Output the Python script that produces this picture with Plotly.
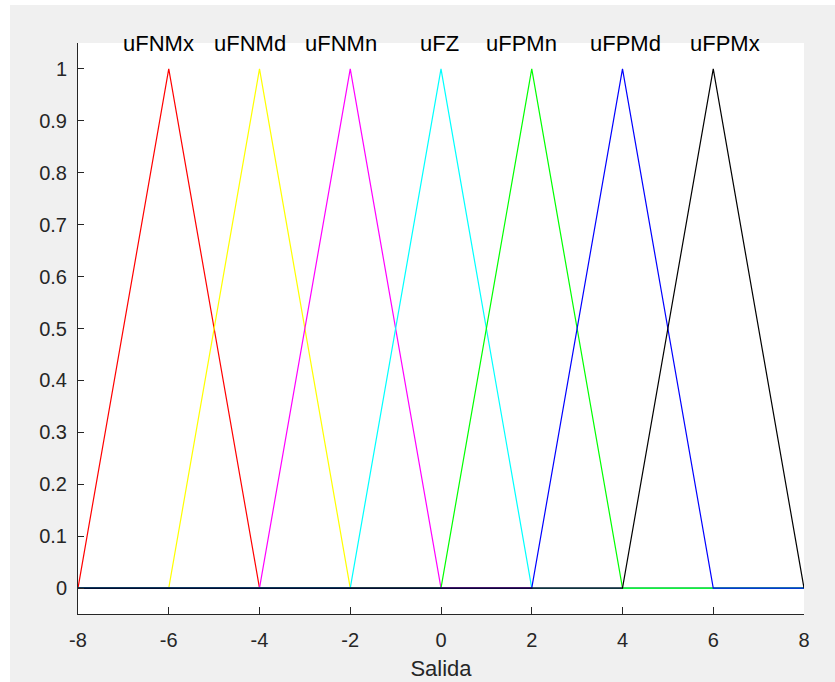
import plotly.graph_objects as go

names = ["uFNMx", "uFNMd", "uFNMn", "uFZ", "uFPMn", "uFPMd", "uFPMx"]
params = [[-8, -6, -4], [-6, -4, -2], [-4, -2, 0], [-2, 0, 2], [0, 2, 4], [2, 4, 6], [4, 6, 8]]
colors = ["#ff0000", "#ffff00", "#ff00ff", "#00ffff", "#00ff00", "#0000ff", "#000000"]
label_shift_px = [-10, -10, -9, -2, -10, 3, 12]
xmin, xmax = -8, 8
xticks = [-8, -6, -4, -2, 0, 2, 4, 6, 8]
yticks = [0, 0.1, 0.2, 0.3, 0.4, 0.5, 0.6, 0.7, 0.8, 0.9, 1]

fig = go.Figure()
for name, (a, b, c), col, sh in zip(names, params, colors, label_shift_px):
    xs = [xmin, a, b, c, xmax]
    ys = [0, 0, 1, 0, 0]
    fig.add_trace(go.Scatter(x=xs, y=ys, mode="lines", line=dict(color=col, width=1.2),
                             name=name, showlegend=False, hoverinfo="skip"))
    fig.add_annotation(x=b, y=1.05, xref="x", yref="y", text=name, showarrow=False,
                       xshift=sh, yanchor="middle",
                       font=dict(size=22, color="#000000", family="Liberation Sans, Arial"))

L, R, T, B = 78, 804, 43, 614
W, H = 835, 682
pw, ph = R - L, B - T
# white strips at figure edges
fig.add_shape(type="rect", xref="paper", yref="paper",
              x0=-L / pw, x1=(10 - L) / pw, y0=(B - H) / ph, y1=B / ph,
              fillcolor="white", line=dict(width=0), layer="below")
fig.add_shape(type="rect", xref="paper", yref="paper",
              x0=-L / pw, x1=(W - L) / pw, y0=(B - 5) / ph, y1=B / ph,
              fillcolor="white", line=dict(width=0), layer="below")

axis_font = dict(size=20, color="#262626", family="Liberation Sans, Arial")
fig.update_layout(
    width=W, height=H,
    margin=dict(l=L, r=W - R, t=T, b=H - B, pad=0, autoexpand=False),
    paper_bgcolor="#f0f0f0", plot_bgcolor="white",
    xaxis=dict(range=[xmin, xmax], tickvals=xticks, ticktext=[str(v) for v in xticks],
               ticks="inside", ticklen=7, tickcolor="#262626", showline=True,
               linecolor="#262626", linewidth=1, showgrid=False, zeroline=False,
               tickfont=axis_font, mirror=False, ticklabelstandoff=8, automargin=False,
               title=dict(text="Salida", font=dict(size=22, color="#262626",
                                                   family="Liberation Sans, Arial"), standoff=10)),
    yaxis=dict(range=[-0.05, 1.05], tickvals=yticks, ticktext=[f"{v:g}" for v in yticks],
               ticks="inside", ticklen=6, tickcolor="#262626", showline=True,
               linecolor="#262626", linewidth=1, showgrid=False, zeroline=False,
               tickfont=axis_font, mirror=False, ticklabelstandoff=6, automargin=False),
)
fig.write_html("out.html", config={"displayModeBar": False},
               post_script="document.body.style.margin='0';document.body.style.overflow='hidden';"
                           "document.body.style.background='#f0f0f0';"
                           "document.documentElement.style.background='#f0f0f0';")
